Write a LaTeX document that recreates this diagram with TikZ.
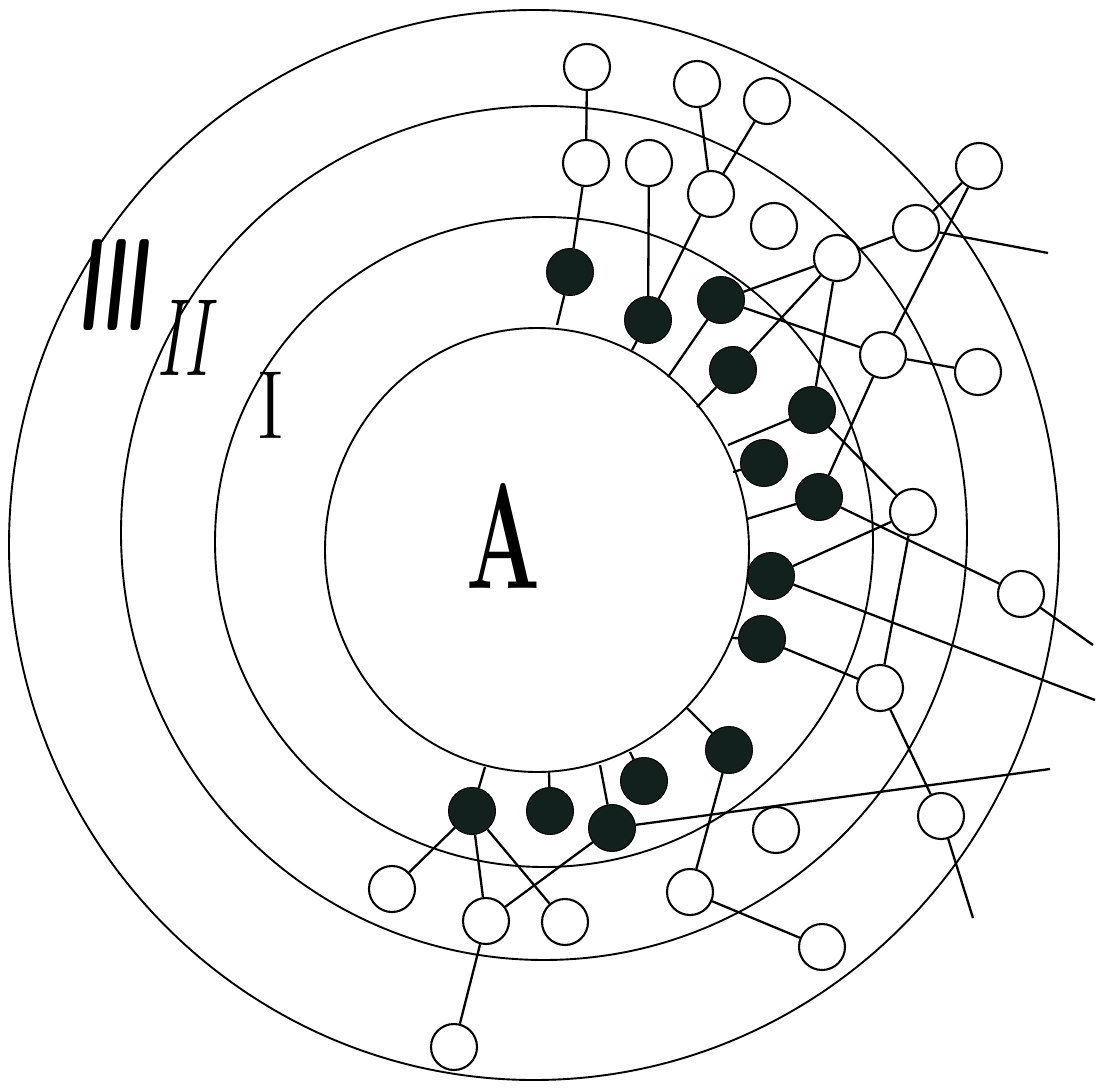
\documentclass[tikz,border=0pt]{standalone}
\begin{document}
\begin{tikzpicture}[x=1pt,y=-1pt,
  ring/.style={line width=1.9pt},
  wire/.style={line width=2.3pt},
  hole/.style={circle,draw,line width=2.1pt,minimum size=46pt,inner sep=0pt,fill=white},
  atom/.style={circle,draw=black,line width=1pt,minimum size=47pt,inner sep=0pt,fill=dotcol},
  lbl/.style={inner sep=0pt,transform shape}
]
\definecolor{dotcol}{RGB}{18,32,30}
\useasboundingbox[fill=white] (0,0) rectangle (1104,1089);

% rings
\draw[ring] (537,550) ellipse [x radius=212, y radius=222];
\draw[ring] (544,542) ellipse [x radius=329, y radius=325];
\draw[ring] (544,533) ellipse [x radius=423, y radius=427];
\draw[ring] (534,545) ellipse [x radius=525, y radius=535];

% labels
\node[lbl,xscale=0.5,font=\fontsize{131}{131}\selectfont\sffamily\bfseries\slshape] (l3) at (112,285) {III};
\node[lbl,xscale=0.63,font=\fontsize{110}{110}\selectfont\itshape] (l2) at (183,338) {II};
\node[lbl,xscale=0.9,font=\fontsize{97}{97}\selectfont] (l1) at (271,405) {I};
\node[lbl,xscale=0.58,font=\fontsize{150}{150}\selectfont\bfseries] (lA) at (503,536) {A};

% stub end points on circle A
\coordinate (s1) at (557,325);
\coordinate (s2) at (632,350);
\coordinate (s3) at (668,377);
\coordinate (s5) at (697,407);
\coordinate (s6) at (728,445);
\coordinate (s7) at (733,472);
\coordinate (s8) at (747,519);
\coordinate (s10) at (732,638);
\coordinate (s11) at (687,708);
\coordinate (s12) at (630,752);
\coordinate (s13) at (600,765);
\coordinate (s14) at (485,767);
\coordinate (s15) at (549,772);
% free ends
\coordinate (F1) at (1048,253);
\coordinate (F2) at (1093,645);
\coordinate (F3) at (1095,700);
\coordinate (F4) at (1050,769);
\coordinate (F5) at (973,918);

% black dots
\node[atom] (B1) at (570,272) {};
\node[atom] (B2) at (648,320) {};
\node[atom] (B3) at (721,300) {};
\node[atom] (B5) at (733,370) {};
\node[atom] (B6) at (812,410) {};
\node[atom] (B7) at (764,463) {};
\node[atom] (B8) at (819,497) {};
\node[atom] (B9) at (771,576) {};
\node[atom] (B10) at (762,639) {};
\node[atom] (B11) at (729,750) {};
\node[atom] (B12) at (644,781) {};
\node[atom] (B13) at (612,828) {};
\node[atom] (B14) at (472,811) {};
\node[atom] (B15) at (550,811) {};

% open circles
\node[hole] (O1) at (587,67) {};
\node[hole] (O2) at (697,84) {};
\node[hole] (O3) at (767,101) {};
\node[hole] (O4) at (586,163) {};
\node[hole] (O5) at (649,163) {};
\node[hole] (O6) at (711,194) {};
\node[hole] (O7) at (774,226) {};
\node[hole] (O8) at (837,258) {};
\node[hole] (O9) at (916,228) {};
\node[hole] (O10) at (979,166) {};
\node[hole] (O11) at (883,355) {};
\node[hole] (O12) at (978,372) {};
\node[hole] (O13) at (913,512) {};
\node[hole] (O14) at (1021,594) {};
\node[hole] (O15) at (880,688) {};
\node[hole] (O16) at (776,830) {};
\node[hole] (O17) at (941,816) {};
\node[hole] (O18) at (690,892) {};
\node[hole] (O19) at (822,947) {};
\node[hole] (O20) at (392,889) {};
\node[hole] (O21) at (486,921) {};
\node[hole] (O22) at (565,922) {};
\node[hole] (O23) at (454,1047) {};

% connectors
\draw[wire] (O1) -- (O4);
\draw[wire] (O4) -- (B1);
\draw[wire] (B1) -- (s1);
\draw[wire] (O5) -- (B2);
\draw[wire] (O2) -- (O6);
\draw[wire] (O3) -- (O6);
\draw[wire] (O6) -- (B2);
\draw[wire] (B2) -- (s2);
\draw[wire] (B3) -- (O8);
\draw[wire] (B3) -- (O11);
\draw[wire] (B3) -- (s3);
\draw[wire] (O8) -- (O9);
\draw[wire] (O10) -- (O9);
\draw[wire] (O10) -- (O11);
\draw[wire] (O9) -- (F1);
\draw[wire] (O8) -- (B5);
\draw[wire] (O8) -- (B6);
\draw[wire] (B5) -- (s5);
\draw[wire] (B6) -- (s6);
\draw[wire] (B6) -- (O13);
\draw[wire] (B7) -- (s7);
\draw[wire] (B8) -- (s8);
\draw[wire] (O11) -- (B8);
\draw[wire] (O11) -- (O12);
\draw[wire] (B8) -- (O14);
\draw[wire] (B9) -- (O13);
\draw[wire] (B9) -- (F3);
\draw[wire] (O14) -- (F2);
\draw[wire] (O13) -- (O15);
\draw[wire] (B10) -- (s10);
\draw[wire] (B10) -- (O15);
\draw[wire] (O15) -- (O17);
\draw[wire] (O17) -- (F5);
\draw[wire] (B11) -- (s11);
\draw[wire] (B11) -- (O18);
\draw[wire] (O18) -- (O19);
\draw[wire] (B12) -- (s12);
\draw[wire] (B13) -- (s13);
\draw[wire] (B13) -- (F4);
\draw[wire] (B13) -- (O21);
\draw[wire] (B15) -- (s15);
\draw[wire] (B14) -- (s14);
\draw[wire] (B14) -- (O20);
\draw[wire] (B14) -- (O21);
\draw[wire] (B14) -- (O22);
\draw[wire] (O21) -- (O23);
\end{tikzpicture}
\end{document}
